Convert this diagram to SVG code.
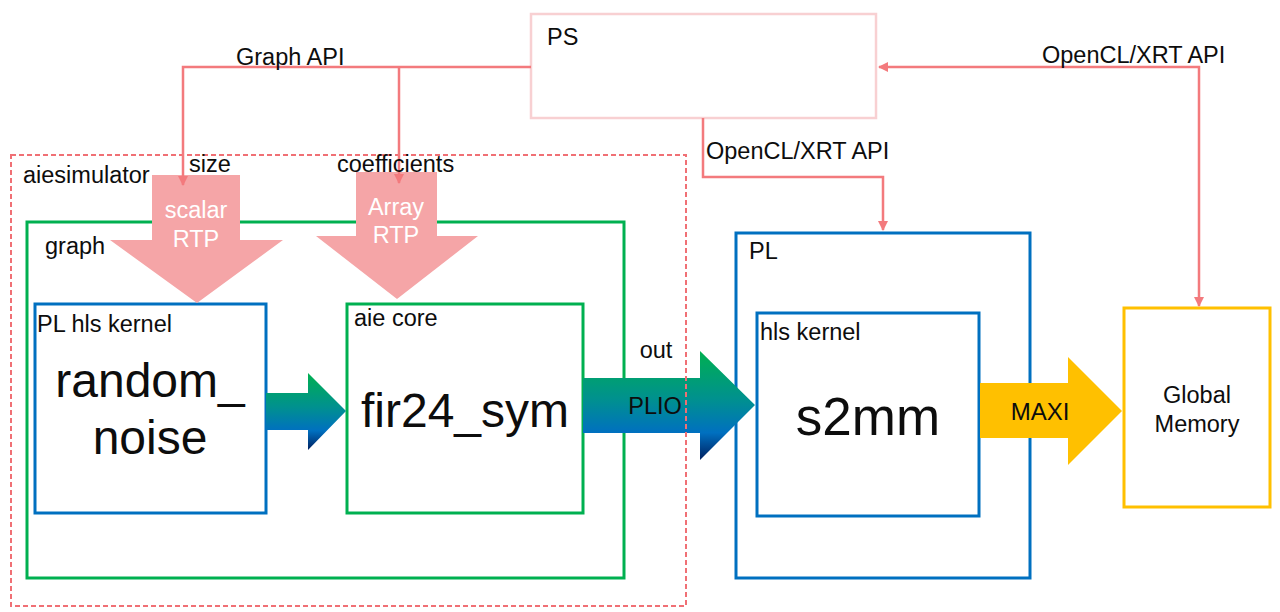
<svg xmlns="http://www.w3.org/2000/svg" width="1280" height="612" viewBox="0 0 1280 612">
<style>
text{font-family:"Liberation Sans",Arial,sans-serif;fill:#0D0D0D}
.s{font-size:23.5px}
.b{font-size:48px}
.w{fill:#FFFFFF;font-size:23.5px}
.m{text-anchor:middle}
.conn{fill:none;stroke:#F37A7D;stroke-width:2.5}
.blue{fill:#FFFFFF;stroke:#0070C0;stroke-width:3}
.green{fill:none;stroke:#00B050;stroke-width:3}
.rtp{fill:#F5A5A7}
</style>
<defs>
<linearGradient id="gb" x1="0" y1="0" x2="0" y2="1">
<stop offset="0" stop-color="#00B050"/>
<stop offset="0.45" stop-color="#009090"/>
<stop offset="0.75" stop-color="#0070C0"/>
<stop offset="1" stop-color="#002060"/>
</linearGradient>
<marker id="ah" viewBox="0 0 10 10" refX="9" refY="5" markerWidth="4" markerHeight="4" orient="auto-start-reverse" markerUnits="strokeWidth">
<path d="M0,0 L10,5 L0,10 z" fill="#F37A7D"/>
</marker>
</defs>

<g id="ps">
<rect x="531" y="14" width="345" height="104" fill="#FFFFFF" stroke="#F8D0D2" stroke-width="2.5"/>
<text class="s" x="547" y="45">PS</text>
</g>

<g id="graph">
<rect class="green" x="27" y="222" width="597" height="356"/>
<text class="s" x="45" y="254">graph</text>
</g>

<g id="random_noise">
<rect class="blue" x="35" y="304" width="231" height="209"/>
<text class="s" x="37" y="332">PL hls kernel</text>
<text class="b m" x="150" y="397">random_</text>
<text class="b m" x="150" y="454">noise</text>
</g>

<g id="fir24_sym">
<rect x="347" y="304" width="236" height="209" fill="#FFFFFF" stroke="#00B050" stroke-width="3"/>
<text class="s" x="354" y="326">aie core</text>
<text class="b m" x="465" y="427">fir24_sym</text>
</g>

<g id="pl">
<rect x="736" y="233" width="294" height="345" fill="none" stroke="#0070C0" stroke-width="3"/>
<text class="s" x="749" y="259">PL</text>
</g>

<g id="s2mm">
<rect class="blue" x="757" y="313" width="222" height="203"/>
<text class="s" x="760" y="340">hls kernel</text>
<text class="m" x="868" y="435" style="font-size:53px">s2mm</text>
</g>

<g id="global_memory">
<rect x="1124" y="308" width="146" height="199" fill="#FFFFFF" stroke="#FFC000" stroke-width="3"/>
<text class="s m" x="1197" y="403">Global</text>
<text class="s m" x="1197" y="432">Memory</text>
</g>

<g id="scalar_rtp">
<polygon class="rtp" points="152,175 240,175 240,240 283,240 197,303 110,240 152,240"/>
<text class="w m" x="196" y="218">scalar</text>
<text class="w m" x="196" y="247">RTP</text>
</g>

<g id="array_rtp">
<polygon class="rtp" points="356,172 437,172 437,236 478,236 397,299 316,236 356,236"/>
<text class="w m" x="396" y="215">Array</text>
<text class="w m" x="396" y="243">RTP</text>
</g>

<g id="stream_arrow">
<polygon fill="url(#gb)" points="266,393 308,393 308,373 346,411 308,450 308,430 266,430"/>
</g>

<g id="plio">
<polygon fill="url(#gb)" points="583,378 700,378 700,351 755,405 700,460 700,433 583,433"/>
<text class="s m" x="656" y="358">out</text>
<text class="s m" x="655" y="414">PLIO</text>
</g>

<g id="maxi">
<polygon fill="#FFC000" points="980,383 1068,383 1068,357 1122,411 1068,465 1068,438 980,438"/>
<text class="m" x="1040" y="420" style="font-size:24px">MAXI</text>
</g>

<g id="aiesimulator">
<rect x="11" y="155" width="675" height="451" fill="none" stroke="#F07075" stroke-width="2" stroke-dasharray="5,3"/>
<text class="s" x="23" y="183">aiesimulator</text>
</g>

<g id="connectors">
<path class="conn" d="M531,67 H183 V185" marker-end="url(#ah)"/>
<path class="conn" d="M399,67 V183" marker-end="url(#ah)"/>
<path class="conn" d="M703,118 V177 H883 V230" marker-end="url(#ah)"/>
<path class="conn" d="M879,67 H1199 V306" marker-start="url(#ah)" marker-end="url(#ah)"/>
<text class="s" x="236" y="65">Graph API</text>
<text class="s" x="189" y="172">size</text>
<text class="s" x="337" y="172">coefficients</text>
<text class="s" x="706" y="159">OpenCL/XRT API</text>
<text class="s" x="1042" y="63">OpenCL/XRT API</text>
</g>
</svg>
